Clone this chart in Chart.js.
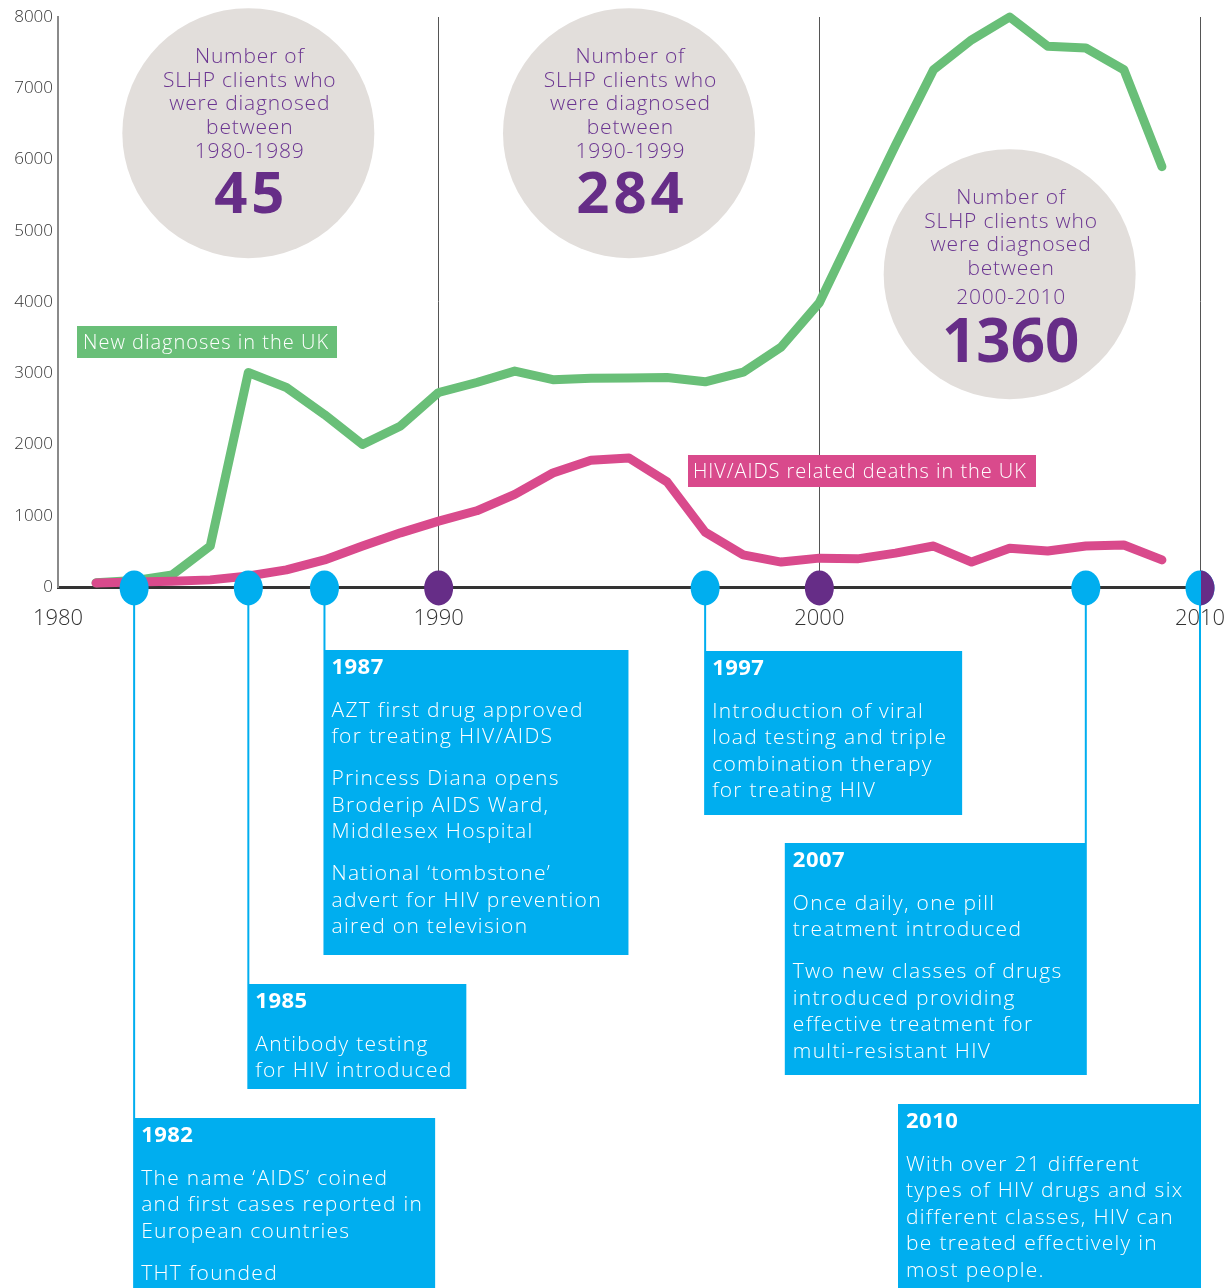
<!DOCTYPE html>
<html>
<head>
<meta charset="utf-8">
<script src="https://cdn.jsdelivr.net/npm/chart.js@4.4.1/dist/chart.umd.min.js"></script>
<style>
  html, body { margin: 0; padding: 0; background: #fff; }
  #wrap { width: 1232px; height: 1288px; }
</style>
</head>
<body>
<div id="wrap"><canvas id="hivChart" width="1232" height="1288"></canvas></div>
<script>
const years = [1981, 1982, 1983, 1984, 1985, 1986, 1987, 1988, 1989, 1990,
  1991, 1992, 1993, 1994, 1995, 1996, 1997, 1998, 1999, 2000,
  2001, 2002, 2003, 2004, 2005, 2006, 2007, 2008, 2009];
const newDiagnoses = [60, 90, 170, 575, 3010, 2800, 2420, 2000, 2260, 2730,
  2870, 3030, 2910, 2930, 2935, 2940, 2880, 3015, 3370, 3990,
  5100, 6200, 7260, 7680, 8000, 7590, 7565, 7260, 5900];
const deaths = [55, 70, 80, 100, 155, 240, 380, 575, 760, 925,
  1070, 1300, 1600, 1780, 1810, 1475, 770, 450, 350, 405,
  395, 475, 575, 350, 545, 505, 575, 590, 380];

const yTicks = [0, 1000, 2000, 3000, 4000, 5000, 6000, 7000, 8000];
const xTicks = [1980, 1990, 2000, 2010];
const decadeMarks = [1990, 2000, 2010];

const periodLabels = ['1980-1989', '1990-1999', '2000-2010'];
const periodCounts = ['45', '284', '1360'];

const milestoneYears = [1982, 1985, 1987, 1997, 2007, 2010];
const milestoneTexts = [
  [["The name \u2018AIDS\u2019 coined", "and first cases reported in", "European countries"], ["THT founded"]],
  [["Antibody testing", "for HIV introduced"]],
  [["AZT first drug approved", "for treating HIV/AIDS"],
   ["Princess Diana opens", "Broderip AIDS Ward,", "Middlesex Hospital"],
   ["National \u2018tombstone\u2019", "advert for HIV prevention", "aired on television"]],
  [["Introduction of viral", "load testing and triple", "combination therapy", "for treating HIV"]],
  [["Once daily, one pill", "treatment introduced"],
   ["Two new classes of drugs", "introduced providing", "effective treatment for", "multi-resistant HIV"]],
  [["With over 21 different", "types of HIV drugs and six", "different classes, HIV can", "be treated effectively in", "most people."]]
];

// layout / styling
const FONT = '"Open Sans", "Noto Sans", sans-serif';
const GREEN = '#69bf78';
const PINK = '#d94a8c';
const BLUE = '#00aeef';
const PURPLE = '#662d87';

const circleSpots = [[1985, 6370], [1995, 6370], [2005, 4390]];
const boxLayout = [
  { side: 'left', top: 1118, width: 302, height: 170 },
  { side: 'left', top: 984, width: 219, height: 105 },
  { side: 'left', top: 650, width: 305, height: 305 },
  { side: 'left', top: 651, width: 258, height: 164 },
  { side: 'right', top: 843, width: 302, height: 232 },
  { side: 'right', top: 1104, width: 303, height: 184 }
];

function writeText(ctx, str, x, y, font, color, align, base, spacing) {
  ctx.font = font;
  ctx.fillStyle = color;
  ctx.textAlign = align || 'left';
  ctx.textBaseline = base || 'middle';
  ctx.letterSpacing = (spacing || 0) + 'px';
  // letterSpacing also pads after the last glyph, so shift centred text back
  const shift = align === 'center' ? (spacing || 0) / 2 : 0;
  ctx.fillText(str, x + shift, y);
  ctx.letterSpacing = '0px';
}

const decorPlugin = {
  id: 'decor',
  beforeDatasetsDraw(chart) {
    const { ctx, scales: { x, y } } = chart;
    ctx.save();
    periodLabels.forEach((period, i) => {
      const cx = x.getPixelForValue(circleSpots[i][0]);
      const cy = y.getPixelForValue(circleSpots[i][1]);
      ctx.fillStyle = '#e2dedb';
      ctx.beginPath();
      ctx.ellipse(cx, cy, 126, 125, 0, 0, Math.PI * 2);
      ctx.fill();
      const words = ['Number of', 'SLHP clients who', 'were diagnosed', 'between'];
      const offs = [-76, -52, -29, -5];
      words.forEach((w, j) => writeText(ctx, w, cx + 1, cy + offs[j], '300 21px ' + FONT, '#6b3591', 'center', 'middle', 0.8));
      writeText(ctx, period, cx + 1, cy + (i === 2 ? 24 : 19), '300 21px ' + FONT, '#6b3591', 'center', 'middle', 0.8);
      if (i === 2) {
        writeText(ctx, periodCounts[i], cx + 1, cy + 88, 'bold 60px ' + FONT, PURPLE, 'center', 'alphabetic', 0);
      } else {
        writeText(ctx, periodCounts[i], cx + 1, cy + 80, 'bold 58px ' + FONT, PURPLE, 'center', 'alphabetic', 4);
      }
    });
    ctx.restore();
  },
  afterDatasetsDraw(chart) {
    const { ctx, scales: { x, y } } = chart;
    const axisY = y.getPixelForValue(0) + 1;
    ctx.save();

    // series labels
    ctx.fillStyle = GREEN;
    ctx.fillRect(77, 326, 260, 32);
    writeText(ctx, 'New diagnoses in the UK', 83, 343, '300 20px ' + FONT, '#fff', 'left', 'middle', 1);
    ctx.fillStyle = PINK;
    ctx.fillRect(688, 455, 348, 32);
    writeText(ctx, 'HIV/AIDS related deaths in the UK', 693, 472, '300 20px ' + FONT, '#fff', 'left', 'middle', 0.95);

    // milestone connectors + boxes
    milestoneYears.forEach((yr, i) => {
      const px = x.getPixelForValue(yr);
      const b = boxLayout[i];
      ctx.strokeStyle = BLUE;
      ctx.lineWidth = 2;
      ctx.beginPath();
      ctx.moveTo(px, axisY);
      ctx.lineTo(px, b.top);
      ctx.stroke();
      const left = b.side === 'left' ? px - 1 : px + 1 - b.width;
      ctx.fillStyle = BLUE;
      ctx.fillRect(left, b.top, b.width, b.height);
      writeText(ctx, String(yr), left + 8, b.top + 18, 'bold 22px ' + FONT, '#fff', 'left', 'middle', 0.5);
      let ty = b.top + 61;
      milestoneTexts[i].forEach((para, p) => {
        if (p > 0) ty += 15.5;
        para.forEach(line => {
          writeText(ctx, line, left + 8, ty, '300 21px ' + FONT, '#fff', 'left', 'middle', 1.3);
          ty += 26.5;
        });
      });
    });

    // dots on the axis
    milestoneYears.forEach(yr => {
      ctx.fillStyle = BLUE;
      ctx.beginPath();
      ctx.ellipse(x.getPixelForValue(yr), axisY, 14.5, 17.5, 0, 0, Math.PI * 2);
      ctx.fill();
    });
    decadeMarks.forEach(yr => {
      const px = x.getPixelForValue(yr);
      ctx.fillStyle = PURPLE;
      ctx.beginPath();
      if (milestoneYears.includes(yr)) {
        ctx.ellipse(px, axisY, 14.5, 17.5, 0, -Math.PI / 2, Math.PI / 2);
      } else {
        ctx.ellipse(px, axisY, 14.5, 17.5, 0, 0, Math.PI * 2);
      }
      ctx.fill();
    });
    // 2010 connector sits on top of the split dot
    const p10 = x.getPixelForValue(2010);
    ctx.strokeStyle = BLUE;
    ctx.lineWidth = 2;
    ctx.beginPath();
    ctx.moveTo(p10, axisY - 17);
    ctx.lineTo(p10, axisY + 17);
    ctx.stroke();
    ctx.restore();
  }
};

const ctx = document.getElementById('hivChart').getContext('2d');
new Chart(ctx, {
  type: 'line',
  data: {
    datasets: [
      {
        label: 'HIV/AIDS related deaths in the UK',
        data: years.map((yr, i) => ({ x: yr, y: deaths[i] })),
        borderColor: PINK,
        borderWidth: 9,
        borderCapStyle: 'round',
        borderJoinStyle: 'round',
        pointRadius: 0,
        tension: 0,
        clip: false
      },
      {
        label: 'New diagnoses in the UK',
        data: years.map((yr, i) => ({ x: yr, y: newDiagnoses[i] })),
        borderColor: GREEN,
        borderWidth: 9,
        borderCapStyle: 'round',
        borderJoinStyle: 'round',
        pointRadius: 0,
        tension: 0,
        clip: false
      }
    ]
  },
  options: {
    responsive: false,
    animation: false,
    layout: { padding: { top: 17, right: 32, left: 0, bottom: 0 } },
    plugins: { legend: { display: false }, tooltip: { enabled: false } },
    scales: {
      x: {
        type: 'linear',
        min: 1980,
        max: 2010,
        afterBuildTicks: s => { s.ticks = xTicks.map(v => ({ value: v })); },
        afterFit: s => {
          s.height = 1288 - 587;
          s.paddingLeft = 0;
          s.paddingRight = 0;
        },
        ticks: {
          color: '#333',
          font: { family: FONT, size: 22, weight: '300' },
          padding: 19,
          maxRotation: 0,
          callback: v => String(v)
        },
        grid: {
          drawTicks: false,
          lineWidth: 1,
          color: c => (c.tick && c.tick.value === 1980 ? 'rgba(0,0,0,0)' : '#555')
        },
        border: { color: '#333', width: 3 }
      },
      y: {
        min: 0,
        max: 8000,
        afterBuildTicks: s => { s.ticks = yTicks.map(v => ({ value: v })); },
        afterFit: s => { s.width = 58; },
        ticks: {
          color: '#333',
          font: { family: FONT, size: 17, weight: '300' },
          padding: 5,
          callback: v => String(v)
        },
        grid: { display: false, drawTicks: false },
        border: { color: '#8a8a8a', width: 2 }
      }
    }
  },
  plugins: [decorPlugin]
});
</script>
</body>
</html>
